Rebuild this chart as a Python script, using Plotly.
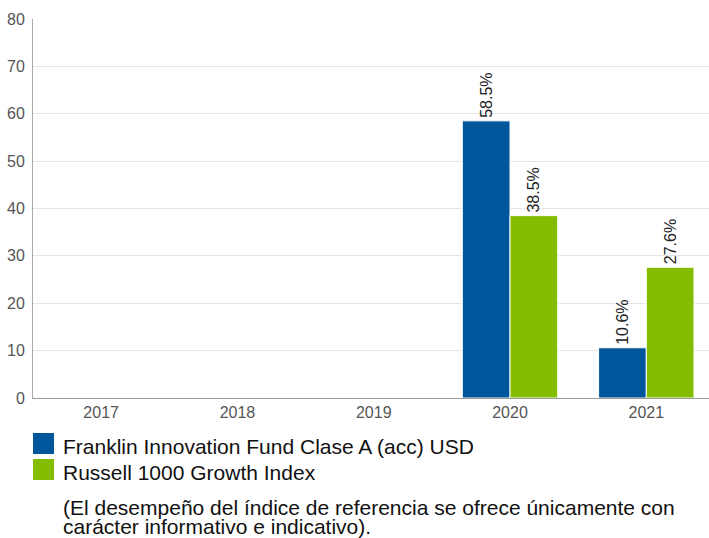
import plotly.graph_objects as go

years = ["2017", "2018", "2019", "2020", "2021"]
fund_name = "Franklin Innovation Fund Clase A (acc) USD"
index_name = "Russell 1000 Growth Index"
fund_values = [None, None, None, 58.5, 10.6]
index_values = [None, None, None, 38.5, 27.6]
y_ticks = [0, 10, 20, 30, 40, 50, 60, 70, 80]
note_lines = [
    "(El desempeño del índice de referencia se ofrece únicamente con",
    "carácter informativo e indicativo).",
]

BLUE = "#00569A"
GREEN = "#84BD00"
FONT = "Liberation Sans, Arial, sans-serif"

W, H = 709, 538
L, R, T, B = 33, 0, 19, 140
PH = H - T - B
PW = W - L - R


def py(y):
    return (H - B - y) / PH


def px(x):
    return (x - L) / PW


def labels(vals):
    return [None if v is None else f"{v:.1f}%" for v in vals]


fig = go.Figure()
for name, vals, col in [(fund_name, fund_values, BLUE), (index_name, index_values, GREEN)]:
    fig.add_trace(go.Bar(
        x=years, y=vals, name=name,
        marker=dict(color=col, line=dict(color="white", width=1)),
        text=labels(vals), textposition="outside", textangle=-90,
        textfont=dict(family=FONT, size=16, color="#222"),
        cliponaxis=False,
    ))

fig.update_layout(
    width=W, height=H,
    margin=dict(l=L, r=R, t=T, b=B),
    paper_bgcolor="white", plot_bgcolor="white",
    barmode="group", bargap=0.30, bargroupgap=0,
    showlegend=False,
    font=dict(family=FONT, color="#555"),
    xaxis=dict(
        range=[-0.5, 4.46], showgrid=False, showline=True, linecolor="#999",
        linewidth=1, ticks="", tickfont=dict(size=16, color="#555"),
    ),
    yaxis=dict(
        range=[0, 80], tickvals=y_ticks, showgrid=True, gridcolor="#e6e6e6",
        showline=True, linecolor="#aaa", linewidth=1, zeroline=False,
        ticks="", tickfont=dict(size=16, color="#555"), ticklabelstandoff=4,
    ),
)

# custom legend
for i, (name, col) in enumerate([(fund_name, BLUE), (index_name, GREEN)]):
    top = 433 + i * 26
    fig.add_shape(type="rect", xref="paper", yref="paper",
                  x0=px(33), x1=px(54), y0=py(top), y1=py(top + 21),
                  fillcolor=col, line=dict(width=0))
    fig.add_annotation(xref="paper", yref="paper", x=px(61), y=py(446 + i * 26),
                       xanchor="left", yanchor="middle", showarrow=False,
                       text=name, font=dict(family=FONT, size=21, color="#111"))

for i, line in enumerate(note_lines):
    fig.add_annotation(xref="paper", yref="paper", x=px(61), y=py(507 + i * 19),
                       xanchor="left", yanchor="middle", showarrow=False,
                       text=line, font=dict(family=FONT, size=21, color="#111"))

fig.write_html("out.html")
